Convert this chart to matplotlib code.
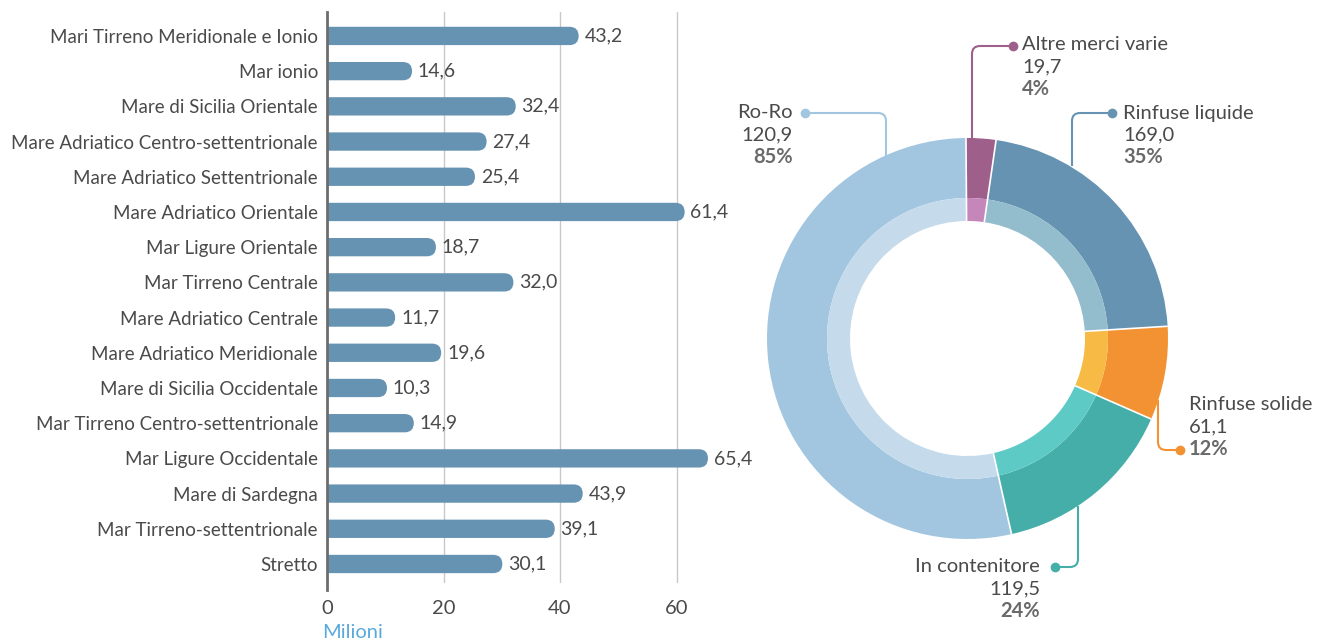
import matplotlib
matplotlib.use("Agg")
import matplotlib.pyplot as plt
import numpy as np
from matplotlib.patches import FancyBboxPatch
from matplotlib.path import Path
from matplotlib.patches import PathPatch

plt.rcParams['font.family'] = ['Lato', 'DejaVu Sans']

# --- dati barre (milioni) ---
regioni = ["Mari Tirreno Meridionale e Ionio", "Mar ionio", "Mare di Sicilia Orientale",
           "Mare Adriatico Centro-settentrionale", "Mare Adriatico Settentrionale",
           "Mare Adriatico Orientale", "Mar Ligure Orientale", "Mar Tirreno Centrale",
           "Mare Adriatico Centrale", "Mare Adriatico Meridionale",
           "Mare di Sicilia Occidentale", "Mar Tirreno Centro-settentrionale",
           "Mar Ligure Occidentale", "Mare di Sardegna", "Mar Tirreno-settentrionale",
           "Stretto"]
valori = [43.2, 14.6, 32.4, 27.4, 25.4, 61.4, 18.7, 32.0, 11.7, 19.6, 10.3, 14.9,
          65.4, 43.9, 39.1, 30.1]
xticks = [0, 20, 40, 60]

# --- dati anello ---
merci = ["Rinfuse liquide", "Rinfuse solide", "In contenitore", "Ro-Ro", "Altre merci varie"]
tonnellate = [169.0, 61.1, 119.5, 120.9, 19.7]
perc_etichetta = [35, 12, 24, 85, 4]
# quote come disegnate nell'anello
quote_anello = [21.75, 7.55, 14.9, 53.4, 2.4]

col_est = ["#6793b3", "#f29233", "#45aea8", "#a3c6e0", "#9e5f8b"]
col_int = ["#93bccd", "#f6ba45", "#5ecac5", "#c5dbeb", "#c586ba"]

TXT = "#4a4a4a"
W, H = 1327, 641

fig = plt.figure(figsize=(W / 100, H / 100), dpi=100)

# ---------------- barre ----------------
x0, x1 = 0, 70
ytop, ybot = -0.68, len(regioni) - 1 + 0.54
ax_l, ax_b = 327, 583
ax_r, ax_t = 327 + 70 * 5.825, 12
ax = fig.add_axes([ax_l / W, (H - ax_b) / H, (ax_r - ax_l) / W, (ax_b - ax_t) / H])
ax.set_xlim(x0, x1)
ax.set_ylim(ybot, ytop)

px_x = (ax_r - ax_l) / (x1 - x0)
px_y = (ax_b - ax_t) / (ybot - ytop)
h = 0.52
asp = px_x / px_y
r = h / (2 * asp)

for i, v in enumerate(valori):
    p = FancyBboxPatch((-3 * r, i - h / 2), v + 3 * r, h,
                       boxstyle=f"round,pad=0,rounding_size={r}",
                       mutation_aspect=asp, fc="#6793b3", ec="none", zorder=2)
    ax.add_patch(p)
    ax.text(v + 1.0, i, f"{v:.1f}".replace(".", ","), va="center", ha="left",
            fontsize=14, color=TXT, clip_on=False, zorder=3)

for t in xticks[1:]:
    ax.axvline(t, color="#c8c8c8", lw=1, zorder=1)

ax.set_yticks(range(len(regioni)))
ax.set_yticklabels(regioni, fontsize=13.5, color=TXT)
ax.set_xticks(xticks)
ax.set_xticklabels([str(t) for t in xticks], fontsize=14.5, color=TXT)
ax.tick_params(length=0)
ax.tick_params(axis="y", pad=6.5)
ax.tick_params(axis="x", pad=12)
for s in ["top", "right", "bottom"]:
    ax.spines[s].set_visible(False)
ax.spines["left"].set_color("#6d6d6d")
ax.spines["left"].set_linewidth(2)
ax.spines["left"].set_zorder(4)
ax.spines["left"].set_bounds(ybot + 0.2, ytop)
fig.text(322 / W, (H - 632) / H, "Milioni", color="#5aa9dc", fontsize=14.5,
         va="center", ha="left")

# ---------------- anello ----------------
a2 = fig.add_axes([0, 0, 1, 1])
cx, cy = 967.5, H - 338.5
R_out, R_mid, R_in = 200.5, 140.5, 117.5
start = 81.8
a2.pie(quote_anello, radius=R_out, center=(cx, cy), startangle=start, counterclock=False,
       colors=col_est, wedgeprops=dict(width=R_out - R_mid, linewidth=0))
a2.pie(quote_anello, radius=R_mid, center=(cx, cy), startangle=start, counterclock=False,
       colors=col_int, wedgeprops=dict(width=R_mid - R_in, linewidth=0))
# separatori bianchi tra le fette
bordi = start - np.cumsum([0] + quote_anello[:-1]) * 3.6
for ang in np.radians(bordi):
    a2.plot([cx + R_in * np.cos(ang), cx + R_out * np.cos(ang)],
            [cy + R_in * np.sin(ang), cy + R_out * np.sin(ang)],
            color="white", lw=1.2, solid_capstyle="butt")
a2.set_xlim(0, W)
a2.set_ylim(0, H)
a2.set_aspect("auto")
a2.axis("off")


def leader(pts, color, rad=8):
    # linea a gomito con angolo arrotondato e pallino iniziale
    (xa, ya), (xb, yb), (xc, yc) = pts
    def toward(p, q, d):
        dx, dy = q[0] - p[0], q[1] - p[1]
        n = (dx ** 2 + dy ** 2) ** 0.5
        return (p[0] + dx / n * d, p[1] + dy / n * d)
    c1 = toward((xb, yb), (xa, ya), rad)
    c2 = toward((xb, yb), (xc, yc), rad)
    path = Path([(xa, ya), c1, (xb, yb), c2, (xc, yc)],
                [Path.MOVETO, Path.LINETO, Path.CURVE3, Path.CURVE3, Path.LINETO])
    a2.add_patch(PathPatch(path, fc="none", ec=color, lw=1.5))
    a2.plot([xa], [ya], "o", color=color, ms=7, mec="none")


# posizioni delle etichette (pixel, y verso l'alto)
etichette = {
    "Rinfuse liquide": dict(pts=[(1112, H - 113), (1072, H - 113), (1072, H - 166)],
                            tx=1123, ty=H - 113, ha="left"),
    "Rinfuse solide": dict(pts=[(1180, H - 450), (1158, H - 450), (1158, H - 400)],
                           tx=1189, ty=H - 405, ha="left"),
    "In contenitore": dict(pts=[(1055, H - 567), (1078, H - 567), (1078, H - 506)],
                           tx=1040, ty=H - 567, ha="right"),
    "Ro-Ro": dict(pts=[(805, H - 113), (886, H - 113), (886, H - 156)],
                  tx=793, ty=H - 113, ha="right"),
    "Altre merci varie": dict(pts=[(1013, H - 46), (972, H - 46), (972, H - 139)],
                              tx=1022, ty=H - 45, ha="left"),
}

for k, nome in enumerate(merci):
    e = etichette[nome]
    leader(e["pts"], col_est[k])
    a2.text(e["tx"], e["ty"], nome, ha=e["ha"], va="center", fontsize=14.5, color=TXT)
    a2.text(e["tx"], e["ty"] - 22, f"{tonnellate[k]:.1f}".replace(".", ","),
            ha=e["ha"], va="center", fontsize=14.5, color=TXT)
    a2.text(e["tx"], e["ty"] - 44, f"{perc_etichetta[k]}%", ha=e["ha"], va="center",
            fontsize=14.5, color="#6a6a6a", fontweight="bold")

fig.savefig("out.png", dpi=100)
